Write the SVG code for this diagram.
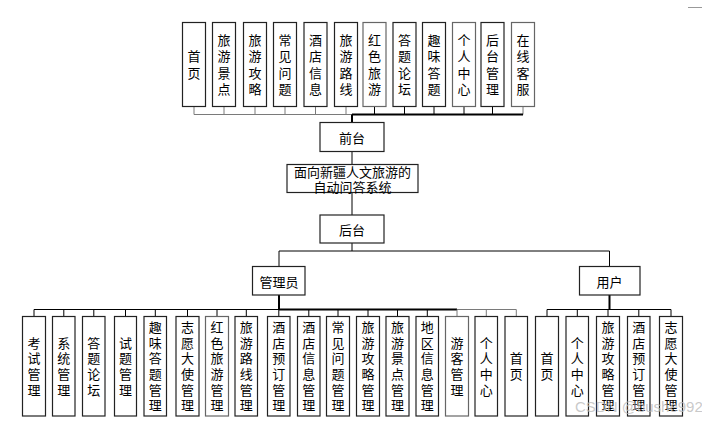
<svg xmlns="http://www.w3.org/2000/svg" width="702" height="422" viewBox="0 0 702 422">
<style>
.b{fill:#fff;stroke:#222;stroke-width:1.2}
.bg{fill:#fff;stroke:#666;stroke-width:1.2}
.t{font-family:"Noto Sans CJK SC","Noto Sans CJK JP",sans-serif;font-size:13px;fill:#000;text-anchor:middle;dominant-baseline:central}
.v{font-family:"Noto Sans CJK SC","Noto Sans CJK JP",sans-serif;font-size:13px;fill:#000;text-anchor:middle;writing-mode:vertical-rl}
.c{fill:none;stroke:#000;stroke-width:1}
.cg{fill:none;stroke:#7a7a7a;stroke-width:1}
.ck{fill:none;stroke:#000;stroke-width:2}
</style>
<rect width="702" height="422" fill="#fff"/>
<g id="connectors">
  <path class="cg" d="M194,106.5V114.5M224,106.5V114.5M255,106.5V114.5M285,106.5V114.5M315.5,106.5V114.5M346,106.5V114.5"/>
  <path class="c" d="M374.5,106.5V114.5M404.5,106.5V114.5M434,106.5V114.5M464,106.5V114.5M492.5,106.5V114.5"/>
  <path class="cg" d="M523,106.5V114.5"/>
  <path class="cg" d="M194,114.5H352"/>
  <path class="ck" d="M352,114.5H523"/>
  <path class="ck" d="M352,114.5V122.5"/>
  <path class="c" d="M352,151.5V164.5M352,192.5V215M352,243V251"/>
  <path class="c" d="M279,251H609.5M279,251V266.5M609.5,251V266.5"/>
  <path class="ck" d="M279,295V309.5M609.5,295V309.5"/>
  <path class="c" d="M34,309.5H279"/>
  <path class="ck" d="M279,309.5H457"/>
  <path class="cg" d="M457,309.5H516.3"/>
  <path class="c" d="M34,309.5V316.5M63.8,309.5V316.5M93.8,309.5V316.5M125.5,309.5V316.5M155.3,309.5V316.5M187.5,309.5V316.5M217,309.5V316.5M246.3,309.5V316.5M278.8,309.5V316.5M308.8,309.5V316.5M338,309.5V316.5M368,309.5V316.5M397.5,309.5V316.5M427.3,309.5V316.5"/>
  <path class="cg" d="M457,309.5V316.5M486.3,309.5V316.5M516.3,309.5V316.5"/>
  <path class="c" d="M547,309.5H671M547,309.5V316.5M577.3,309.5V316.5M608,309.5V316.5M638.8,309.5V316.5M671,309.5V316.5"/>
</g>
<g id="n_shouye_top"><rect class="b" x="182.5" y="22.5" width="23" height="84"/><text class="v" x="194" y="56.3">首</text><text class="v" x="194" y="72.8">页</text></g>
<g id="n_lyjd_top"><rect class="b" x="212.5" y="22.5" width="23" height="84"/><text class="v" x="224" y="39.8">旅</text><text class="v" x="224" y="56.3">游</text><text class="v" x="224" y="72.8">景</text><text class="v" x="224" y="89.3">点</text></g>
<g id="n_lygl_top"><rect class="b" x="243.5" y="22.5" width="23" height="84"/><text class="v" x="255" y="39.8">旅</text><text class="v" x="255" y="56.3">游</text><text class="v" x="255" y="72.8">攻</text><text class="v" x="255" y="89.3">略</text></g>
<g id="n_cjwt_top"><rect class="b" x="273.5" y="22.5" width="23" height="84"/><text class="v" x="285" y="39.8">常</text><text class="v" x="285" y="56.3">见</text><text class="v" x="285" y="72.8">问</text><text class="v" x="285" y="89.3">题</text></g>
<g id="n_jdxx_top"><rect class="b" x="304" y="22.5" width="23" height="84"/><text class="v" x="315.5" y="39.8">酒</text><text class="v" x="315.5" y="56.3">店</text><text class="v" x="315.5" y="72.8">信</text><text class="v" x="315.5" y="89.3">息</text></g>
<g id="n_lylx_top"><rect class="b" x="334.5" y="22.5" width="23" height="84"/><text class="v" x="346" y="39.8">旅</text><text class="v" x="346" y="56.3">游</text><text class="v" x="346" y="72.8">路</text><text class="v" x="346" y="89.3">线</text></g>
<g id="n_hsly_top"><rect class="bg" x="363" y="22.5" width="23" height="84"/><text class="v" x="374.5" y="39.8">红</text><text class="v" x="374.5" y="56.3">色</text><text class="v" x="374.5" y="72.8">旅</text><text class="v" x="374.5" y="89.3">游</text></g>
<g id="n_dtlt_top"><rect class="b" x="393" y="22.5" width="23" height="84"/><text class="v" x="404.5" y="39.8">答</text><text class="v" x="404.5" y="56.3">题</text><text class="v" x="404.5" y="72.8">论</text><text class="v" x="404.5" y="89.3">坛</text></g>
<g id="n_qwdt_top"><rect class="b" x="422.5" y="22.5" width="23" height="84"/><text class="v" x="434" y="39.8">趣</text><text class="v" x="434" y="56.3">味</text><text class="v" x="434" y="72.8">答</text><text class="v" x="434" y="89.3">题</text></g>
<g id="n_grzx_top"><rect class="bg" x="452.5" y="22.5" width="23" height="84"/><text class="v" x="464" y="39.8">个</text><text class="v" x="464" y="56.3">人</text><text class="v" x="464" y="72.8">中</text><text class="v" x="464" y="89.3">心</text></g>
<g id="n_htgl_top"><rect class="b" x="481" y="22.5" width="23" height="84"/><text class="v" x="492.5" y="39.8">后</text><text class="v" x="492.5" y="56.3">台</text><text class="v" x="492.5" y="72.8">管</text><text class="v" x="492.5" y="89.3">理</text></g>
<g id="n_zxkf_top"><rect class="bg" x="511.5" y="22.5" width="23" height="84"/><text class="v" x="523" y="39.8">在</text><text class="v" x="523" y="56.3">线</text><text class="v" x="523" y="72.8">客</text><text class="v" x="523" y="89.3">服</text></g>
<g id="n_qiantai"><rect class="b" x="320" y="122.5" width="64" height="29"/><text class="t" x="352" y="137">前台</text></g>
<g id="n_title"><rect class="b" x="287" y="164.5" width="131" height="28"/><text class="t" x="352.5" y="171.5">面向新疆人文旅游的</text><text class="t" x="352.5" y="186">自动问答系统</text></g>
<g id="n_houtai"><rect class="b" x="320" y="215" width="64" height="28"/><text class="t" x="352" y="229">后台</text></g>
<g id="n_admin"><rect class="b" x="252.5" y="266.5" width="52.5" height="28.5"/><text class="t" x="279" y="281">管理员</text></g>
<g id="n_user"><rect class="b" x="579.5" y="266.5" width="60.5" height="28.5"/><text class="t" x="609.5" y="281">用户</text></g>
<g id="n_a1"><rect class="b" x="22.5" y="316.5" width="23" height="99.5"/><text class="v" x="34" y="342.9">考</text><text class="v" x="34" y="358.5">试</text><text class="v" x="34" y="374.1">管</text><text class="v" x="34" y="389.7">理</text></g>
<g id="n_a2"><rect class="b" x="52.5" y="316.5" width="22.5" height="99.5"/><text class="v" x="63.8" y="342.9">系</text><text class="v" x="63.8" y="358.5">统</text><text class="v" x="63.8" y="374.1">管</text><text class="v" x="63.8" y="389.7">理</text></g>
<g id="n_a3"><rect class="b" x="82.5" y="316.5" width="22.5" height="99.5"/><text class="v" x="93.8" y="342.9">答</text><text class="v" x="93.8" y="358.5">题</text><text class="v" x="93.8" y="374.1">论</text><text class="v" x="93.8" y="389.7">坛</text></g>
<g id="n_a4"><rect class="b" x="114.5" y="316.5" width="22" height="99.5"/><text class="v" x="125.5" y="342.9">试</text><text class="v" x="125.5" y="358.5">题</text><text class="v" x="125.5" y="374.1">管</text><text class="v" x="125.5" y="389.7">理</text></g>
<g id="n_a5"><rect class="b" x="144" y="316.5" width="22.5" height="99.5"/><text class="v" x="155.3" y="327.3">趣</text><text class="v" x="155.3" y="342.9">味</text><text class="v" x="155.3" y="358.5">答</text><text class="v" x="155.3" y="374.1">题</text><text class="v" x="155.3" y="389.7">管</text><text class="v" x="155.3" y="405.3">理</text></g>
<g id="n_a6"><rect class="b" x="176" y="316.5" width="23" height="99.5"/><text class="v" x="187.5" y="327.3">志</text><text class="v" x="187.5" y="342.9">愿</text><text class="v" x="187.5" y="358.5">大</text><text class="v" x="187.5" y="374.1">使</text><text class="v" x="187.5" y="389.7">管</text><text class="v" x="187.5" y="405.3">理</text></g>
<g id="n_a7"><rect class="bg" x="205.5" y="316.5" width="23" height="99.5"/><text class="v" x="217" y="327.3">红</text><text class="v" x="217" y="342.9">色</text><text class="v" x="217" y="358.5">旅</text><text class="v" x="217" y="374.1">游</text><text class="v" x="217" y="389.7">管</text><text class="v" x="217" y="405.3">理</text></g>
<g id="n_a8"><rect class="b" x="235" y="316.5" width="22.5" height="99.5"/><text class="v" x="246.3" y="327.3">旅</text><text class="v" x="246.3" y="342.9">游</text><text class="v" x="246.3" y="358.5">路</text><text class="v" x="246.3" y="374.1">线</text><text class="v" x="246.3" y="389.7">管</text><text class="v" x="246.3" y="405.3">理</text></g>
<g id="n_a9"><rect class="b" x="267.5" y="316.5" width="22.5" height="99.5"/><text class="v" x="278.8" y="327.3">酒</text><text class="v" x="278.8" y="342.9">店</text><text class="v" x="278.8" y="358.5">预</text><text class="v" x="278.8" y="374.1">订</text><text class="v" x="278.8" y="389.7">管</text><text class="v" x="278.8" y="405.3">理</text></g>
<g id="n_a10"><rect class="b" x="297.5" y="316.5" width="22.5" height="99.5"/><text class="v" x="308.8" y="327.3">酒</text><text class="v" x="308.8" y="342.9">店</text><text class="v" x="308.8" y="358.5">信</text><text class="v" x="308.8" y="374.1">息</text><text class="v" x="308.8" y="389.7">管</text><text class="v" x="308.8" y="405.3">理</text></g>
<g id="n_a11"><rect class="b" x="326.5" y="316.5" width="23" height="99.5"/><text class="v" x="338" y="327.3">常</text><text class="v" x="338" y="342.9">见</text><text class="v" x="338" y="358.5">问</text><text class="v" x="338" y="374.1">题</text><text class="v" x="338" y="389.7">管</text><text class="v" x="338" y="405.3">理</text></g>
<g id="n_a12"><rect class="b" x="356.5" y="316.5" width="23" height="99.5"/><text class="v" x="368" y="327.3">旅</text><text class="v" x="368" y="342.9">游</text><text class="v" x="368" y="358.5">攻</text><text class="v" x="368" y="374.1">略</text><text class="v" x="368" y="389.7">管</text><text class="v" x="368" y="405.3">理</text></g>
<g id="n_a13"><rect class="b" x="386" y="316.5" width="23" height="99.5"/><text class="v" x="397.5" y="327.3">旅</text><text class="v" x="397.5" y="342.9">游</text><text class="v" x="397.5" y="358.5">景</text><text class="v" x="397.5" y="374.1">点</text><text class="v" x="397.5" y="389.7">管</text><text class="v" x="397.5" y="405.3">理</text></g>
<g id="n_a14"><rect class="b" x="416" y="316.5" width="22.5" height="99.5"/><text class="v" x="427.3" y="327.3">地</text><text class="v" x="427.3" y="342.9">区</text><text class="v" x="427.3" y="358.5">信</text><text class="v" x="427.3" y="374.1">息</text><text class="v" x="427.3" y="389.7">管</text><text class="v" x="427.3" y="405.3">理</text></g>
<g id="n_a15"><rect class="bg" x="445.5" y="316.5" width="23" height="99.5"/><text class="v" x="457" y="342.9">游</text><text class="v" x="457" y="358.5">客</text><text class="v" x="457" y="374.1">管</text><text class="v" x="457" y="389.7">理</text></g>
<g id="n_a16"><rect class="b" x="475" y="316.5" width="22.5" height="99.5"/><text class="v" x="486.3" y="342.9">个</text><text class="v" x="486.3" y="358.5">人</text><text class="v" x="486.3" y="374.1">中</text><text class="v" x="486.3" y="389.7">心</text></g>
<g id="n_a17"><rect class="b" x="505" y="316.5" width="22.5" height="99.5"/><text class="v" x="516.3" y="358.5">首</text><text class="v" x="516.3" y="374.1">页</text></g>
<g id="n_u1"><rect class="b" x="535.5" y="316.5" width="23" height="99.5"/><text class="v" x="547" y="358.5">首</text><text class="v" x="547" y="374.1">页</text></g>
<g id="n_u2"><rect class="b" x="566" y="316.5" width="22.5" height="99.5"/><text class="v" x="577.3" y="342.9">个</text><text class="v" x="577.3" y="358.5">人</text><text class="v" x="577.3" y="374.1">中</text><text class="v" x="577.3" y="389.7">心</text></g>
<g id="n_u3"><rect class="b" x="596.5" y="316.5" width="23" height="99.5"/><text class="v" x="608" y="327.3">旅</text><text class="v" x="608" y="342.9">游</text><text class="v" x="608" y="358.5">攻</text><text class="v" x="608" y="374.1">略</text><text class="v" x="608" y="389.7">管</text><text class="v" x="608" y="405.3">理</text></g>
<g id="n_u4"><rect class="b" x="627.5" y="316.5" width="22.5" height="99.5"/><text class="v" x="638.8" y="327.3">酒</text><text class="v" x="638.8" y="342.9">店</text><text class="v" x="638.8" y="358.5">预</text><text class="v" x="638.8" y="374.1">订</text><text class="v" x="638.8" y="389.7">管</text><text class="v" x="638.8" y="405.3">理</text></g>
<g id="n_u5"><rect class="b" x="659.5" y="316.5" width="23" height="99.5"/><text class="v" x="671" y="327.3">志</text><text class="v" x="671" y="342.9">愿</text><text class="v" x="671" y="358.5">大</text><text class="v" x="671" y="374.1">使</text><text class="v" x="671" y="389.7">管</text><text class="v" x="671" y="405.3">理</text></g>
<path d="M688,7.5H702" stroke="#999" stroke-width="1" fill="none"/>
<text x="575" y="412" font-family="Liberation Sans, sans-serif" font-size="15" fill="#bbb" fill-opacity="0.8">CSDN @bushe992</text>
</svg>
